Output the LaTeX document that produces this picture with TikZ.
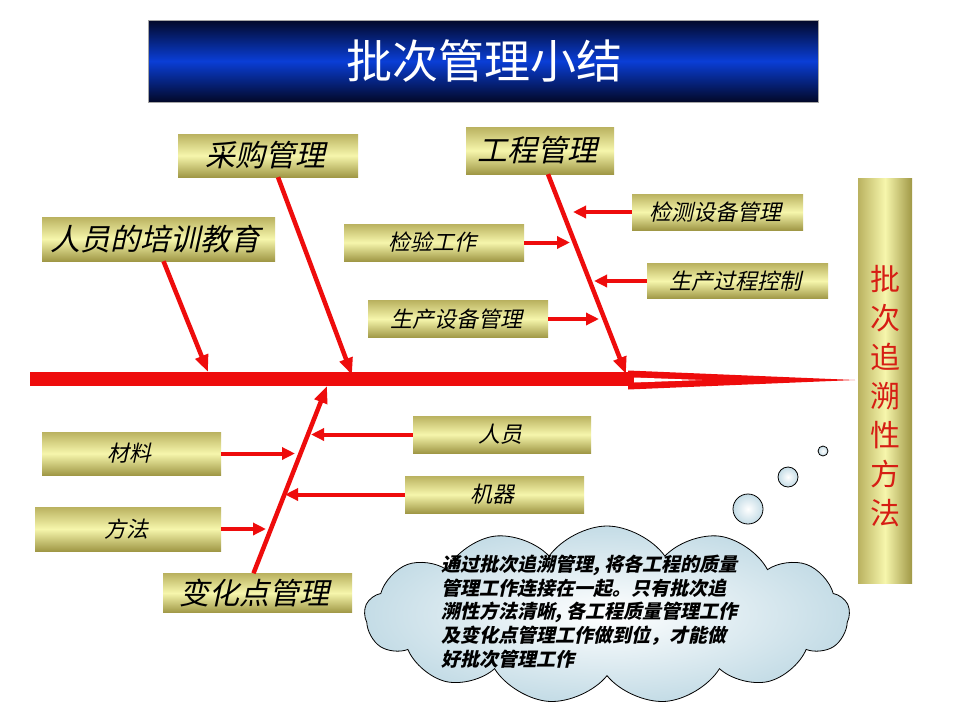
\documentclass[tikz,border=0pt]{standalone}
\usepackage{fontspec}
\newfontfamily\cjk{Noto Sans CJK SC}
\usetikzlibrary{arrows.meta,shapes.symbols,calc}
\definecolor{spine}{RGB}{238,12,12}
\definecolor{boxA}{RGB}{186,178,96}
\definecolor{boxB}{RGB}{246,246,172}
\definecolor{boxC}{RGB}{160,152,70}
\definecolor{navyA}{RGB}{2,8,40}
\definecolor{navyB}{RGB}{10,62,214}
\definecolor{vtext}{RGB}{214,30,20}
\definecolor{cloudC}{RGB}{196,220,230}
\begin{document}
\begin{tikzpicture}[x=1pt,y=-1pt,
  box/.style={top color=boxA, bottom color=boxC, middle color=boxB, draw=none, inner sep=0pt},
  slanted/.style={xslant=0.22, transform shape, inner sep=0pt},
  bigtext/.style={slanted, font=\cjk\fontsize{30}{30}\selectfont},
  smalltext/.style={slanted, font=\cjk\fontsize{22}{22}\selectfont},
  cloudtext/.style={slanted, anchor=west, font=\cjk\bfseries\fontsize{19}{19}\selectfont},
  bone/.style={draw=spine, line width=4.5pt, -{Triangle[length=17pt,width=13pt]}},
  twig/.style={draw=spine, line width=4pt, -{Triangle[length=13pt,width=12pt]}},
  bubble/.style={circle, draw=black, line width=0.8pt, inner color=white, outer color=cloudC, inner sep=0pt}
]
\path[fill=white] (0,0) rectangle (960,720);
\useasboundingbox (0,0) rectangle (960,720);

% title
\node[minimum width=670pt, minimum height=82pt, top color=navyA, bottom color=navyA, middle color=navyB, draw=gray!70, line width=0.8pt, inner sep=0pt] (title) at (483,61) {};
\node[font=\cjk\fontsize{46}{46}\selectfont, text=white] (titletext) at (484,61) {批次管理小结};

% spine
\fill[spine] (30,372) rectangle (629,386);
\fill[spine] (628,370.5) -- (855,380) -- (628,389.5) -- cycle;
\fill[white] (634,377.5) -- (702,380) -- (634,382.5) -- cycle;

% boxes
\node[box, minimum width=180pt, minimum height=43pt] (cg) at (268,155.5) {};
\node[box, minimum width=148pt, minimum height=47pt] (gc) at (540,150.5) {};
\node[box, minimum width=233pt, minimum height=44pt] (px) at (158.5,239) {};
\node[box, minimum width=180pt, minimum height=37pt] (jy) at (434,242.5) {};
\node[box, minimum width=171pt, minimum height=36pt] (jc) at (717.5,212) {};
\node[box, minimum width=181pt, minimum height=35pt] (sc) at (737.5,281) {};
\node[box, minimum width=180pt, minimum height=37pt] (sb) at (458,319) {};
\node[box, minimum width=179pt, minimum height=43pt] (cl) at (131.5,453.5) {};
\node[box, minimum width=186pt, minimum height=44pt] (ff) at (128,529) {};
\node[box, minimum width=178pt, minimum height=37pt] (ry) at (502,434.5) {};
\node[box, minimum width=179pt, minimum height=37pt] (jq) at (494.5,494.5) {};
\node[box, minimum width=189pt, minimum height=39pt] (bh) at (257.5,593) {};

% box texts (italic by slanting)
\node[shift={(cg.center)}, bigtext] (cgt) {采购管理};
\node[shift={(gc.center)}, bigtext] (gct) {工程管理};
\node[shift={(px.center)}, bigtext] (pxt) {人员的培训教育};
\node[shift={(jy.center)}, smalltext] (jyt) {检验工作};
\node[shift={(jc.center)}, smalltext] (jct) {检测设备管理};
\node[shift={(sc.center)}, smalltext] (sct) {生产过程控制};
\node[shift={(sb.center)}, smalltext] (sbt) {生产设备管理};
\node[shift={(cl.center)}, smalltext] (clt) {材料};
\node[shift={(ff.center)}, smalltext] (fft) {方法};
\node[shift={(ry.center)}, smalltext] (ryt) {人员};
\node[shift={(jq.center)}, smalltext] (jqt) {机器};
\node[shift={(bh.center)}, bigtext] (bht) {变化点管理};

% right bar
\node[left color=boxA, right color=boxC, middle color=boxB, minimum width=54pt, minimum height=405pt, inner sep=0pt] (bar) at (885,380.5) {};
\node[font=\cjk\fontsize{30}{39}\selectfont, text=vtext, align=center, inner sep=0pt] (bartext) at (885,396) {批\\次\\追\\溯\\性\\方\\法};

% bone end coordinates
\coordinate (cgE) at (352,375);
\coordinate (pxE) at (208,372);
\coordinate (gcE) at (626,374);
\coordinate (bhE) at (327,386);
\draw[bone] ([xshift=10pt]cg.south) -- (cgE);
\draw[bone] ([xshift=5pt]px.south) -- (pxE);
\draw[bone] ([xshift=8pt]gc.south) -- (gcE);
\draw[bone] ([xshift=-4pt]bh.north) -- (bhE);

% twigs
\coordinate (jcE) at (573,212);
\coordinate (jyE) at (570,242.5);
\coordinate (scE) at (594,281);
\coordinate (sbE) at (599,319);
\coordinate (ryE) at (311,434.5);
\coordinate (jqE) at (285,494.5);
\coordinate (clE) at (295,453.5);
\coordinate (ffE) at (266,529);
\draw[twig] (jc.west) -- (jcE);
\draw[twig] (jy.east) -- (jyE);
\draw[twig] (sc.west) -- (scE);
\draw[twig] (sb.east) -- (sbE);
\draw[twig] (ry.west) -- (ryE);
\draw[twig] (jq.west) -- (jqE);
\draw[twig] (cl.east) -- (clE);
\draw[twig] (ff.east) -- (ffE);

% cloud callout
\node[cloud, cloud puffs=13, cloud puff arc=110, draw=black, line width=0.8pt, inner color=white, outer color=cloudC, minimum width=485pt, minimum height=178pt] (cloud) at (607,615) {};
\node[bubble, minimum size=30pt] (b1) at (748,509) {};
\node[bubble, minimum size=20pt] (b2) at (788,477) {};
\node[bubble, minimum size=10pt] (b3) at (823,451) {};
\node[shift={(443,565)}, cloudtext] (ct1) {通过批次追溯管理, 将各工程的质量};
\node[shift={(443,588.5)}, cloudtext] (ct2) {管理工作连接在一起。只有批次追};
\node[shift={(443,612)}, cloudtext] (ct3) {溯性方法清晰, 各工程质量管理工作};
\node[shift={(443,635.5)}, cloudtext] (ct4) {及变化点管理工作做到位，才能做};
\node[shift={(443,659)}, cloudtext] (ct5) {好批次管理工作};
\end{tikzpicture}
\end{document}
